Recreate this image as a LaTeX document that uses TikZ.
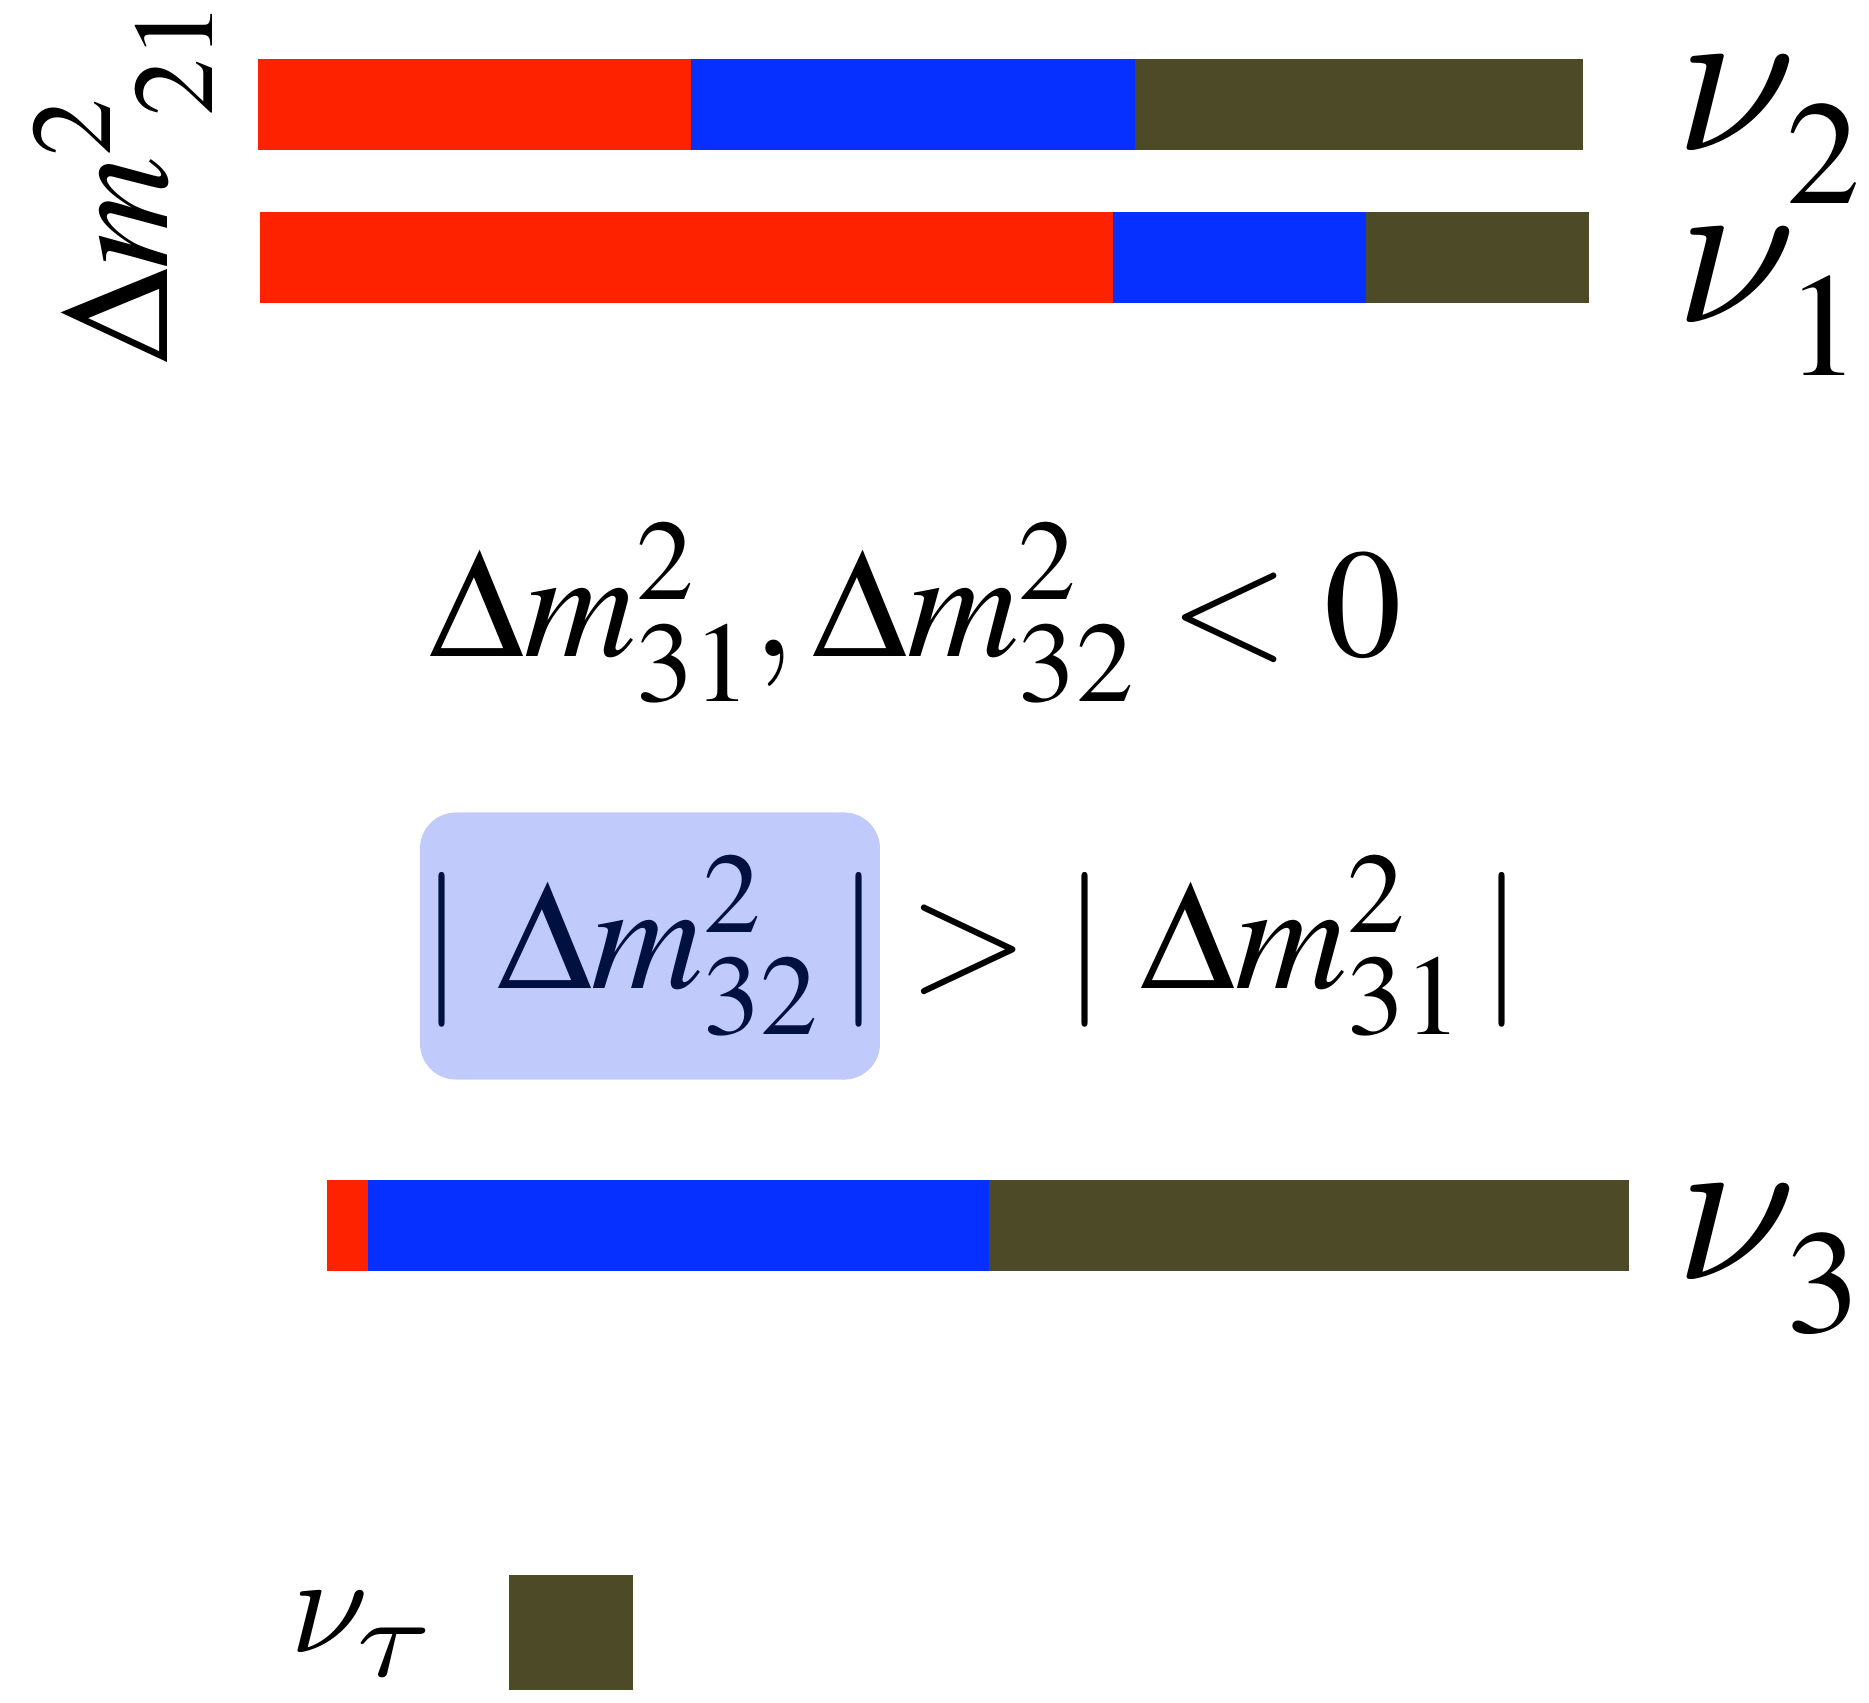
\documentclass[tikz,border=0pt]{standalone}
\usepackage{mathptmx}
\usepackage{graphicx}
\usetikzlibrary{positioning}
\definecolor{xRed}{RGB}{255,34,0}
\definecolor{xBlue}{RGB}{5,48,255}
\definecolor{xOlive}{RGB}{77,74,39}
\definecolor{xBox}{RGB}{192,203,252}
\definecolor{xNavy}{RGB}{0,16,64}
% italic nu and tau, taken at 10pt and scaled
\newcommand{\nuglyph}{{\fontsize{10}{12}\usefont{OML}{lmm}{m}{it}\symbol{23}}}
\newcommand{\tauglyph}{{\fontsize{10}{12}\usefont{OML}{lmm}{m}{it}\symbol{28}}}
\newcommand{\masslabel}[1]{\scalebox{6.2}{\nuglyph}\kern0.03cm\raisebox{-0.53cm}{\fontsize{42}{50}\selectfont$#1$}}
\tikzset{
  eqtext/.style={inner sep=0pt, anchor=base west, font=\fontsize{44}{53}\selectfont},
  nulabel/.style={inner sep=0pt, anchor=base west},
}

\begin{document}
\begin{tikzpicture}[x=0.01cm,y=-0.01cm]
    \useasboundingbox (0,0) rectangle (1869,1702);

    % mass state nu_2
    \fill[xRed] (258,59) rectangle (691,150);
    \fill[xBlue] (691,59) rectangle (1135,150);
    \fill[xOlive] (1135,59) rectangle (1583,150);
    % mass state nu_1
    \fill[xRed] (260,212) rectangle (1113,303);
    \fill[xBlue] (1113,212) rectangle (1366,303);
    \fill[xOlive] (1366,212) rectangle (1589,303);
    % mass state nu_3
    \fill[xRed] (327,1180) rectangle (368,1271);
    \fill[xBlue] (368,1180) rectangle (989,1271);
    \fill[xOlive] (989,1180) rectangle (1629,1271);

    \node[nulabel] (nu2) at (1675,150) {\masslabel{2}};
    \node[nulabel] (nu1) at (1675,322) {\masslabel{1}};
    \node[nulabel] (nu3) at (1675,1279) {\masslabel{3}};
    \node[eqtext, rotate=90] (dm21) at (167,364) {$\Delta m^2_{\hspace{0.4cm}21}$};

    \node[eqtext] (order) at (429,656) {$\Delta m^2_{31}, \Delta m^2_{32} < 0$};

    \node[eqtext, anchor=center, fill=xBox, rounded corners=0.36cm,
      minimum width=4.58cm, minimum height=2.67cm, text=xNavy] (box) at (650,946)
      {$|\;\Delta m^2_{32}\,|$\hspace{0.2cm}};
    \node[eqtext] (rest) at ([xshift=-0.07cm]box.base east) {${}>{}|\;\Delta m^2_{31}\,|$};

    % legend
    \fill[xOlive] (509,1575) rectangle (633,1690);
    \node[nulabel] (nutau) at (290,1652)
      {\scalebox{4.0}{\nuglyph}\kern-0.03cm\raisebox{-0.24cm}{\scalebox{3.8}[3.2]{\tauglyph}}};
\end{tikzpicture}
\end{document}
